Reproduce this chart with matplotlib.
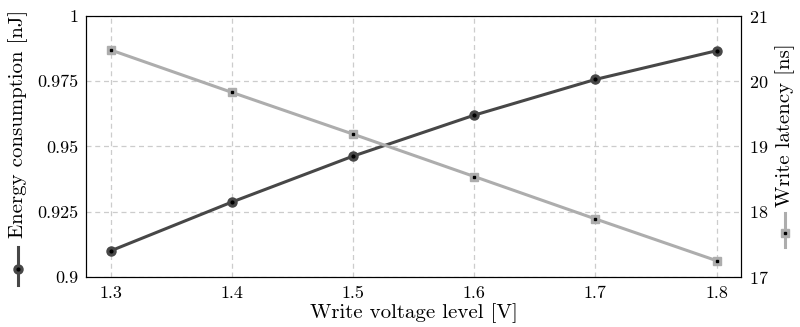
import matplotlib
matplotlib.use("Agg")
import matplotlib.pyplot as plt
from matplotlib.lines import Line2D

plt.rcParams["font.family"] = "serif"
plt.rcParams["font.serif"] = ["cmr10"]
plt.rcParams["mathtext.fontset"] = "cm"
plt.rcParams["axes.formatter.use_mathtext"] = True

voltage = [1.3, 1.4, 1.5, 1.6, 1.7, 1.8]
energy = [0.910, 0.9287, 0.9463, 0.962, 0.9757, 0.9867]
latency = [20.48, 19.83, 19.19, 18.54, 17.89, 17.25]

dark = "#474747"
light = "#adadad"

fig, ax = plt.subplots(figsize=(8.0, 3.27), dpi=100)
ax2 = ax.twinx()

ax.plot(voltage, energy, color=dark, lw=2.2, marker="o", ms=6.5, zorder=3)
ax.plot(voltage, energy, ls="none", marker="o", ms=2, color="black", zorder=4)
ax2.plot(voltage, latency, color=light, lw=2.2, marker="s", ms=6, zorder=3)
ax2.plot(voltage, latency, ls="none", marker="s", ms=1.8, color="black", zorder=4)

ax.set_xlim(1.28, 1.82)
ax.set_ylim(0.9, 1.0)
ax2.set_ylim(17, 21)
ax.set_xticks(voltage)
ax.set_xticklabels(["1.3", "1.4", "1.5", "1.6", "1.7", "1.8"])
ax.set_yticks([0.9, 0.925, 0.95, 0.975, 1.0])
ax.set_yticklabels(["0.9", "0.925", "0.95", "0.975", "1"])
ax2.set_yticks([17, 18, 19, 20, 21])

ax.grid(True, ls=(0, (4, 3)), color="#cccccc", lw=0.9)
ax.set_axisbelow(True)
for a in (ax, ax2):
    a.tick_params(length=0, labelsize=13, pad=6)

ax.set_xlabel("Write voltage level [V]", fontsize=15, labelpad=2)
ax.set_ylabel("Energy consumption [nJ]", fontsize=15, va="center")
ax.yaxis.set_label_coords(-0.104, 0.588)
ax2.set_ylabel("Write latency [ns]", fontsize=15, va="center")
ax2.yaxis.set_label_coords(1.067, 0.582)

# legend-like markers next to the axis labels
lx, rx = -0.104, 1.067
ax.add_line(Line2D([lx, lx], [-0.031, 0.115], transform=ax.transAxes,
                   color=dark, lw=2.2, clip_on=False))
ax.add_line(Line2D([lx], [0.031], transform=ax.transAxes, color=dark,
                   marker="o", ms=6.5, clip_on=False))
ax.add_line(Line2D([lx], [0.031], transform=ax.transAxes, color="black",
                   marker="o", ms=2, clip_on=False))
ax.add_line(Line2D([rx, rx], [0.115, 0.245], transform=ax.transAxes,
                   color=light, lw=2.2, clip_on=False))
ax.add_line(Line2D([rx], [0.169], transform=ax.transAxes, color=light,
                   marker="s", ms=6, clip_on=False))
ax.add_line(Line2D([rx], [0.169], transform=ax.transAxes, color="black",
                   marker="s", ms=1.8, clip_on=False))

fig.subplots_adjust(left=0.108, right=0.926, top=0.951, bottom=0.153)
fig.savefig("out.png", dpi=100)
